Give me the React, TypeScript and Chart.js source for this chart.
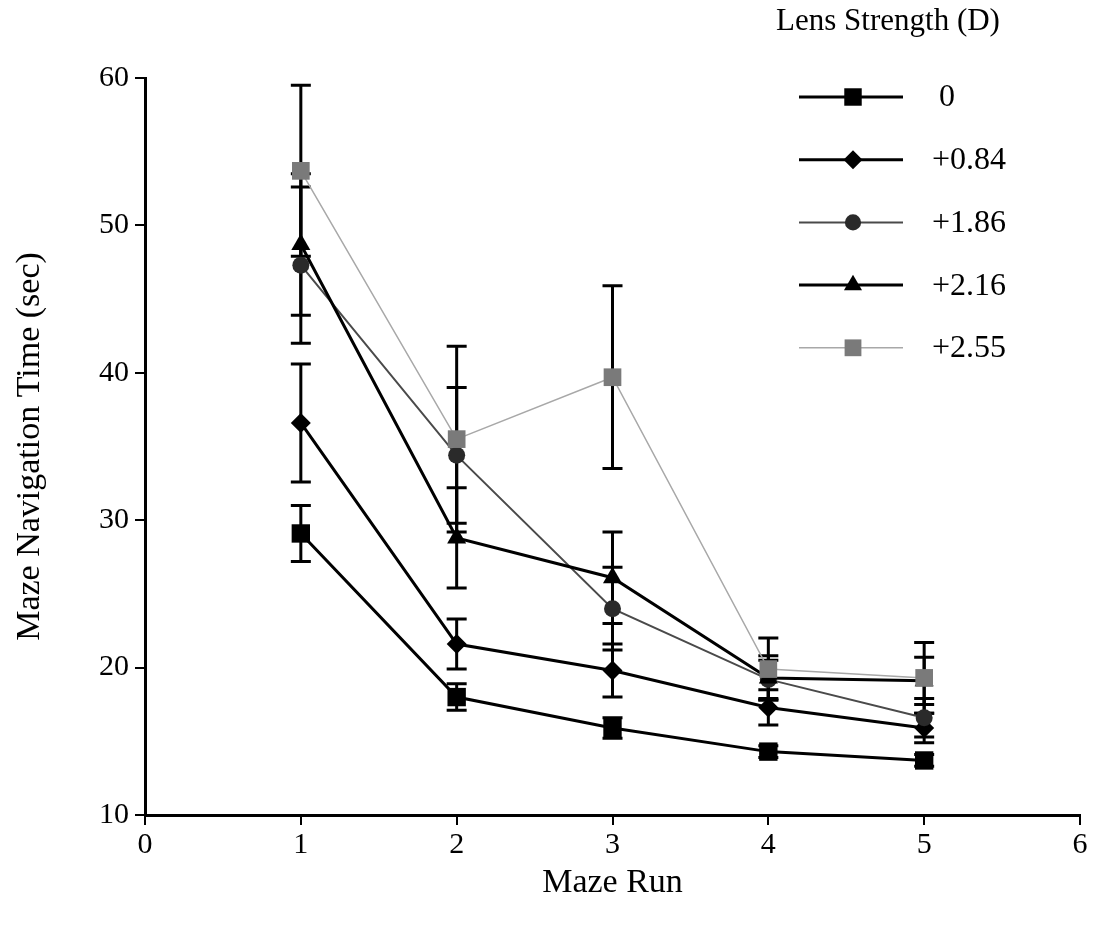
import React, { useEffect, useRef } from 'react';
import { Chart, registerables } from 'chart.js';

Chart.register(...registerables);

// ---- data ----
const runs = [1, 2, 3, 4, 5];
const lensLabels = ['0', '+0.84', '+1.86', '+2.16', '+2.55'];

const time0 = [29.1, 18.0, 15.9, 14.3, 13.7];
const err0 = [1.9, 0.9, 0.7, 0.4, 0.4];

const time084 = [36.6, 21.6, 19.8, 17.3, 15.9];
const err084 = [4.0, 1.7, 1.8, 1.2, 1.0];

const time186 = [47.3, 34.4, 24.0, 19.2, 16.6];
const err186 = [5.3, 4.6, 2.8, 1.3, 1.3];

const time216 = [48.7, 28.8, 26.1, 19.3, 19.1];
const err216 = [4.8, 3.4, 3.1, 1.5, 1.6];

const time255 = [53.7, 35.5, 39.7, 19.9, 19.3];
const err255 = [5.8, 6.3, 6.2, 2.1, 2.4];

const FONT = "'Liberation Serif', 'Times New Roman', serif";

const seriesValues = [time0, time084, time186, time216, time255];
const seriesErrors = [err0, err084, err186, err216, err255];
const seriesStyles = [
  { line: '#000000', width: 3, point: 'rect', radius: 13, fill: '#000000' },
  { line: '#000000', width: 3, point: 'rectRot', radius: 10, fill: '#000000' },
  { line: '#4a4a4a', width: 2, point: 'circle', radius: 8.5, fill: '#2a2a2a' },
  { line: '#000000', width: 3, point: 'triangle', radius: 11, fill: '#000000' },
  { line: '#a8a8a8', width: 1.5, point: 'rect', radius: 12.5, fill: '#7a7a7a' },
];

function drawMarker(ctx: CanvasRenderingContext2D, style: string, x: number, y: number, r: number, fill: string) {
  ctx.beginPath();
  if (style === 'rect') {
    const h = r * Math.SQRT1_2;
    ctx.rect(x - h, y - h, 2 * h, 2 * h);
  } else if (style === 'rectRot') {
    ctx.moveTo(x, y - r);
    ctx.lineTo(x + r, y);
    ctx.lineTo(x, y + r);
    ctx.lineTo(x - r, y);
    ctx.closePath();
  } else if (style === 'triangle') {
    for (let k = 0; k < 3; k++) {
      const a = (k * 2 * Math.PI) / 3;
      const px = x + Math.sin(a) * r;
      const py = y - Math.cos(a) * r;
      if (k === 0) ctx.moveTo(px, py);
      else ctx.lineTo(px, py);
    }
    ctx.closePath();
  } else {
    ctx.arc(x, y, r, 0, Math.PI * 2);
  }
  ctx.fillStyle = fill;
  ctx.fill();
}

const errorBarPlugin = {
  id: 'errorBars',
  beforeDatasetsDraw(chart: any) {
    const ctx = chart.ctx;
    const yScale = chart.scales.y;
    ctx.save();
    ctx.strokeStyle = '#000';
    ctx.lineWidth = 3;
    const cap = 10;
    chart.data.datasets.forEach((ds: any, i: number) => {
      const meta = chart.getDatasetMeta(i);
      const errs = seriesErrors[i];
      meta.data.forEach((pt: any, j: number) => {
        const v = seriesValues[i][j];
        const e = errs[j];
        const yt = yScale.getPixelForValue(v + e);
        const yb = yScale.getPixelForValue(v - e);
        const x = pt.x;
        ctx.beginPath();
        ctx.moveTo(x, yt);
        ctx.lineTo(x, yb);
        ctx.moveTo(x - cap, yt);
        ctx.lineTo(x + cap, yt);
        ctx.moveTo(x - cap, yb);
        ctx.lineTo(x + cap, yb);
        ctx.stroke();
      });
    });
    ctx.restore();
  },
};

const legendPlugin = {
  id: 'lensLegend',
  afterDraw(chart: any) {
    const ctx = chart.ctx;
    ctx.save();
    ctx.fillStyle = '#000';
    ctx.font = `31px ${FONT}`;
    ctx.textAlign = 'center';
    ctx.textBaseline = 'middle';
    ctx.fillText('Lens Strength (D)', 888, 22);
    ctx.textAlign = 'left';
    ctx.font = `32px ${FONT}`;
    chart.data.datasets.forEach((ds: any, i: number) => {
      const st = seriesStyles[i];
      const y = 97 + i * 62.7;
      ctx.strokeStyle = st.line;
      ctx.lineWidth = st.width;
      ctx.beginPath();
      ctx.moveTo(799, y);
      ctx.lineTo(903, y);
      ctx.stroke();
      drawMarker(ctx, st.point, 853, y, st.radius * 0.95, st.fill);
      ctx.fillStyle = '#000';
      const lbl = lensLabels[i];
      ctx.fillText(lbl, lbl.startsWith('+') ? 932 : 939, y + 1);
    });
    ctx.restore();
  },
};

export default function App() {
  const canvasRef = useRef<HTMLCanvasElement | null>(null);

  useEffect(() => {
    if (!canvasRef.current) return;
    const datasets = seriesValues.map((vals, i) => {
      const st = seriesStyles[i];
      return {
        label: lensLabels[i],
        data: runs.map((r, j) => ({ x: r, y: vals[j] })),
        borderColor: st.line,
        borderWidth: st.width,
        pointStyle: st.point,
        pointRadius: st.radius,
        pointBackgroundColor: st.fill,
        pointBorderColor: st.fill,
        pointBorderWidth: 0,
        fill: false,
        tension: 0,
        order: seriesValues.length - i,
      };
    });

    const chart = new Chart(canvasRef.current, {
      type: 'line',
      data: { datasets } as any,
      options: {
        responsive: false,
        animation: false,
        devicePixelRatio: 1,
        layout: { padding: { left: 0, right: 16, top: 78, bottom: 0 } },
        plugins: {
          legend: { display: false },
          tooltip: { enabled: false },
        },
        scales: {
          x: {
            type: 'linear',
            min: 0,
            max: 6,
            ticks: {
              stepSize: 1,
              color: '#000',
              font: { family: FONT, size: 30 },
              padding: 2,
            },
            grid: {
              display: true,
              drawOnChartArea: false,
              drawTicks: true,
              tickLength: 10,
              color: '#000',
              lineWidth: 2,
            },
            border: { display: true, color: '#000', width: 3 },
            title: {
              display: true,
              text: 'Maze Run',
              color: '#000',
              font: { family: FONT, size: 34 },
              padding: { top: 0, bottom: 26 },
            },
            afterFit: (scale: any) => {
              scale.height = 114;
            },
          },
          y: {
            type: 'linear',
            min: 10,
            max: 60,
            ticks: {
              stepSize: 10,
              color: '#000',
              font: { family: FONT, size: 30 },
              padding: 6,
            },
            grid: {
              display: true,
              drawOnChartArea: false,
              drawTicks: true,
              tickLength: 10,
              color: '#000',
              lineWidth: 2,
            },
            border: { display: true, color: '#000', width: 3 },
            title: {
              display: true,
              text: 'Maze Navigation Time (sec)',
              color: '#000',
              font: { family: FONT, size: 34 },
              padding: { top: 10, bottom: 0 },
            },
            afterFit: (scale: any) => {
              scale.width = 145;
            },
          },
        },
      } as any,
      plugins: [errorBarPlugin, legendPlugin],
    });

    return () => {
      chart.destroy();
    };
  }, []);

  return (
    <div style={{ position: 'absolute', left: 0, top: 0, width: 1096, height: 929, background: '#fff' }}>
      <canvas ref={canvasRef} width={1096} height={929} style={{ display: 'block' }} />
    </div>
  );
}
